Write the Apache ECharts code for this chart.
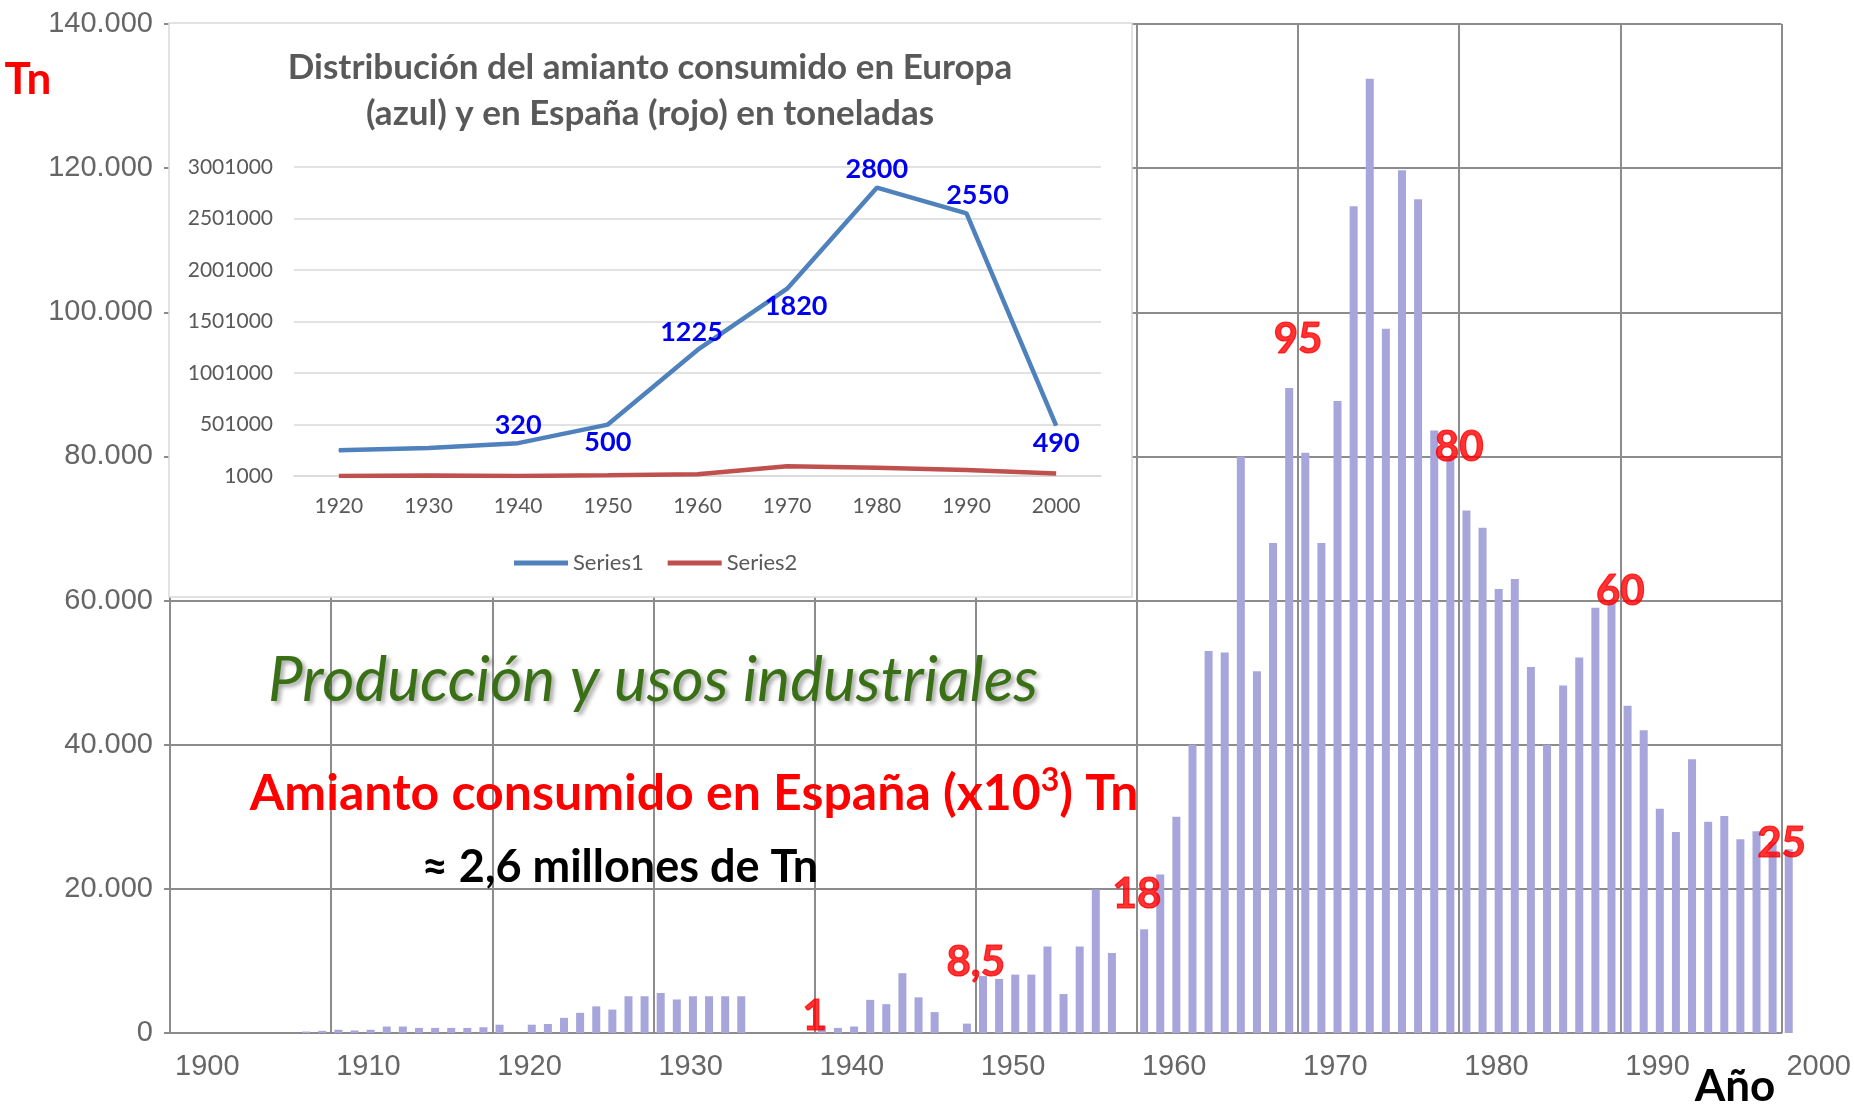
<!DOCTYPE html>
<html>
<head>
<meta charset="utf-8">
<title>Amianto consumido en España</title>
<script src="https://cdn.jsdelivr.net/npm/echarts@6.0.0/dist/echarts.min.js"></script>
<style>
  html, body { margin: 0; padding: 0; background: #fff; }
  #chart { width: 1854px; height: 1105px; }
</style>
</head>
<body>
<div id="chart"></div>
<script>
// consumo anual de amianto en España (Tn); los años que faltan no tienen barra
const years = [
  1908, 1909, 1910, 1911, 1912, 1913, 1914, 1915, 1916, 1917, 1918, 1919, 1920,
  1922, 1923, 1924, 1925, 1926, 1927, 1928, 1929, 1930, 1931, 1932, 1933, 1934, 1935,
  1940, 1941, 1942, 1943, 1944, 1945, 1946, 1947, 1949,
  1950, 1951, 1952, 1953, 1954, 1955, 1956, 1957, 1958,
  1960, 1961, 1962, 1963, 1964, 1965, 1966, 1967, 1968, 1969,
  1970, 1971, 1972, 1973, 1974, 1975, 1976, 1977, 1978, 1979,
  1980, 1981, 1982, 1983, 1984, 1985, 1986, 1987, 1988, 1989,
  1990, 1991, 1992, 1993, 1994, 1995, 1996, 1997, 1998, 1999, 2000
];
const consumo = [
  200, 300, 450, 350, 450, 900, 900, 700, 700, 700, 700, 800, 1150,
  1150, 1250, 2100, 2800, 3700, 3250, 5100, 5100, 5550, 4650, 5100, 5100, 5100, 5100,
  1000, 700, 900, 4600, 4000, 8300, 4950, 2900, 1300,
  7900, 7500, 8100, 8100, 12000, 5400, 12000, 19900, 11100,
  14400, 22000, 30000, 40000, 53000, 52800, 80000, 50200, 68000, 89500,
  80500, 68000, 87700, 114700, 132400, 97700, 119700, 115700, 83600, 80000,
  72500, 70100, 61600, 63000, 50800, 40000, 48200, 52100, 59000, 59900,
  45400, 42000, 31100, 27900, 38000, 29300, 30100, 26900, 28000, 26500, 25500
];

// cifras por década, en miles de Tn
const decadas = [1940, 1950, 1960, 1970, 1980, 1990, 2000];
const decadaMiles = [1, 8.5, 18, 95, 80, 60, 25];

// gráfico pequeño: Europa (Series1) y España (Series2), toneladas
const insetYears = ['1920', '1930', '1940', '1950', '1960', '1970', '1980', '1990', '2000'];
const europa = [252000, 272000, 320000, 500000, 1225000, 1820000, 2800000, 2550000, 490000];
const espana = [1000, 5500, 1000, 8500, 18000, 95000, 80000, 60000, 25000];

const BAR_SHIFT = 0.45; // cada barra cae dentro de su año
const GRID_COLOR = '#8c8c8c';
const FONT = 'Lato, "Open Sans", sans-serif';
const AXIS_FONT = '"Liberation Sans", Arial, sans-serif';

function miles(v) {
  return String(v).replace(/\B(?=(\d{3})+(?!\d))/g, '.');
}

// dónde va cada etiqueta azul (los dos primeros puntos no llevan)
const europaLabelPos = { 2: 'top', 3: 'bottom', 4: 'top', 5: 'bottom', 6: 'top', 7: 'top', 8: 'bottom' };
const europaLabelOffset = { 4: [-6, 0], 5: [9, 0], 7: [11, 0] };

const chart = echarts.init(document.getElementById('chart'));

const option = {
  backgroundColor: '#fff',
  animation: false,
  grid: [
    { left: 170, top: 24, right: 71, bottom: 72 },
    { left: 294, top: 167, right: 753, bottom: 629 }
  ],
  xAxis: [
    {
      gridIndex: 0, type: 'value', min: 1900, max: 2000, interval: 10,
      axisLine: { show: true, onZero: false, lineStyle: { color: GRID_COLOR, width: 2 } },
      axisTick: { show: false },
      splitLine: { show: true, lineStyle: { color: GRID_COLOR, width: 2 } },
      axisLabel: {
        formatter: v => String(v), align: 'left', padding: [0, 0, 0, 5], margin: 19,
        fontFamily: AXIS_FONT, fontSize: 29, color: '#666'
      }
    },
    {
      gridIndex: 1, type: 'category', data: insetYears, boundaryGap: true, z: 3,
      axisLine: { show: true, lineStyle: { color: '#d9d9d9', width: 1.5 } },
      axisTick: { show: false },
      axisLabel: { margin: 20, fontFamily: FONT, fontSize: 21, color: '#595959' }
    }
  ],
  yAxis: [
    {
      gridIndex: 0, type: 'value', min: 0, max: 140000, interval: 20000,
      axisLine: { show: true, lineStyle: { color: GRID_COLOR, width: 2 } },
      axisTick: { show: true, length: 6, lineStyle: { color: GRID_COLOR, width: 2 } },
      splitLine: { show: true, lineStyle: { color: GRID_COLOR, width: 2 } },
      axisLabel: { formatter: miles, margin: 17, fontFamily: AXIS_FONT, fontSize: 29, color: '#666' }
    },
    {
      gridIndex: 1, type: 'value', min: 1000, max: 3001000, interval: 500000, z: 3,
      axisLine: { show: false },
      axisTick: { show: false },
      splitLine: { show: true, lineStyle: { color: '#d9d9d9', width: 1.5 } },
      axisLabel: { formatter: v => String(v), margin: 21, fontFamily: FONT, fontSize: 21, color: '#595959' }
    }
  ],
  legend: {
    data: ['Series1', 'Series2'],
    left: 509, top: 547, icon: 'rect', itemWidth: 54, itemHeight: 5, itemGap: 24,
    textStyle: { fontFamily: FONT, fontSize: 22, color: '#595959' },
    z: 6
  },
  series: [
    {
      name: 'consumo', type: 'bar', xAxisIndex: 0, yAxisIndex: 0,
      barWidth: 8, clip: false, silent: true,
      itemStyle: { color: '#a6a6dd' },
      data: years.map((y, i) => [y + BAR_SHIFT, consumo[i]])
    },
    {
      name: 'decadas', type: 'scatter', xAxisIndex: 0, yAxisIndex: 0,
      symbolSize: 1, itemStyle: { color: 'rgba(0,0,0,0)' }, silent: true, z: 5,
      data: decadas.map((y, i) => [y, decadaMiles[i] * 1000]),
      label: {
        show: true, position: 'inside', offset: [0, -9],
        formatter: p => String(p.value[1] / 1000).replace('.', ','),
        fontFamily: FONT, fontWeight: 'bold', fontSize: 42, color: '#ff0000',
        textBorderColor: '#ff0000', textBorderWidth: 1.2
      }
    },
    {
      name: 'Series1', type: 'line', xAxisIndex: 1, yAxisIndex: 1, z: 4,
      symbol: 'circle', symbolSize: 1, showSymbol: true,
      lineStyle: { width: 4.5, color: '#4f81bd' }, itemStyle: { color: '#4f81bd' },
      label: {
        distance: 4, formatter: p => String(p.value / 1000),
        fontFamily: FONT, fontWeight: 'bold', fontSize: 27, color: '#0000f0'
      },
      data: europa.map((v, i) => ({
        value: v,
        label: {
          show: i in europaLabelPos,
          position: europaLabelPos[i] || 'top',
          offset: europaLabelOffset[i] || [0, 0]
        }
      }))
    },
    {
      name: 'Series2', type: 'line', xAxisIndex: 1, yAxisIndex: 1, z: 4,
      symbol: 'none', lineStyle: { width: 4.5, color: '#c0504d' }, itemStyle: { color: '#c0504d' },
      data: espana
    }
  ],
  graphic: [
    {
      type: 'rect', z: 1, silent: true,
      shape: { x: 169, y: 23, width: 963, height: 574 },
      style: { fill: '#fff', stroke: '#d9d9d9', lineWidth: 1.5 }
    },
    {
      type: 'text', z: 10, x: 650, y: 68,
      style: { text: 'Distribución del amianto consumido en Europa', font: 'bold 35px ' + FONT, fill: '#595959', align: 'center', verticalAlign: 'middle' }
    },
    {
      type: 'text', z: 10, x: 650, y: 114,
      style: { text: '(azul) y en España (rojo) en toneladas', font: 'bold 35px ' + FONT, fill: '#595959', align: 'center', verticalAlign: 'middle' }
    },
    {
      type: 'text', z: 10, x: 28, y: 80,
      style: { text: 'Tn', font: 'bold 44px ' + FONT, fill: '#ff0000', align: 'center', verticalAlign: 'middle' }
    },
    {
      type: 'text', z: 10, x: 653, y: 681,
      style: {
        text: 'Producción y usos industriales', font: 'italic 62px ' + FONT, fill: '#3a7015',
        align: 'center', verticalAlign: 'middle',
        textShadowColor: 'rgba(0,0,0,0.35)', textShadowBlur: 4, textShadowOffsetX: 3, textShadowOffsetY: 3
      }
    },
    {
      type: 'text', z: 10, x: 694, y: 794,
      style: {
        text: '{a|Amianto consumido en España (x10}{s|3}{a|) Tn}',
        align: 'center', verticalAlign: 'middle',
        rich: {
          a: { fontFamily: FONT, fontWeight: 'bold', fontSize: 50, lineHeight: 58, fill: '#ff0000' },
          s: { fontFamily: FONT, fontWeight: 'bold', fontSize: 32, verticalAlign: 'top', fill: '#ff0000' }
        }
      }
    },
    {
      type: 'text', z: 10, x: 620, y: 867,
      style: { text: '≈ 2,6 millones de Tn', font: 'bold 45px ' + FONT, fill: '#000', align: 'center', verticalAlign: 'middle' }
    },
    {
      type: 'text', z: 10, x: 1735, y: 1087,
      style: { text: 'Año', font: 'bold 44px ' + FONT, fill: '#000', align: 'center', verticalAlign: 'middle' }
    }
  ]
};

chart.setOption(option);
</script>
</body>
</html>
